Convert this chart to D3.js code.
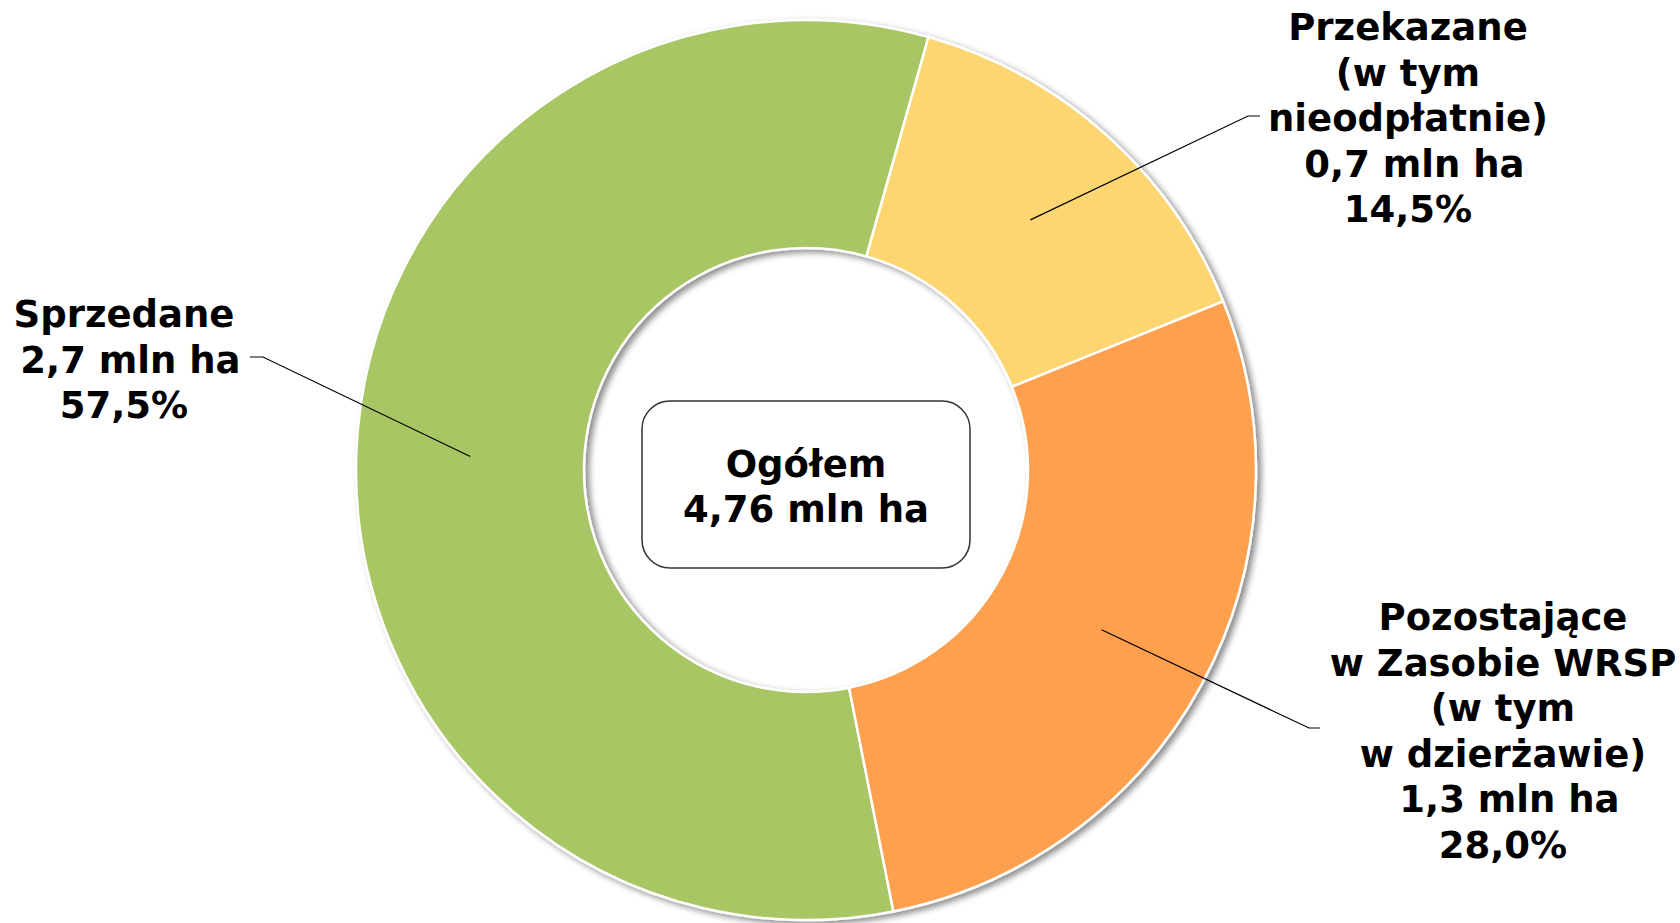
<!DOCTYPE html>
<html><head><meta charset="utf-8">
<script src="https://cdn.jsdelivr.net/npm/d3@7"></script>
<style>
body{margin:0;background:#fff}
svg{display:block}
text{font-family:"DejaVu Sans",Verdana,sans-serif;font-weight:bold;font-size:37px;fill:#000;white-space:pre}
</style>
</head><body>
<svg id="c" width="1680" height="923"></svg>
<script>
// ---- data ----
const categories = ["Sprzedane", "Przekazane", "Pozostające"];
const shares = [57.5, 14.5, 28.0];           // %
const areas = ["2,7", "0,7", "1,3"];          // mln ha
const labelLines = [
  ["Sprzedane", " 2,7 mln ha", "57,5%"],
  ["Przekazane", "(w tym", "nieodpłatnie)", " 0,7 mln ha", "14,5%"],
  ["Pozostające", "w Zasobie WRSP", "(w tym", "w dzierżawie)", " 1,3 mln ha", "28,0%"]
];
const totalLines = ["Ogółem", "4,76 mln ha"];
const colors = ["#A8C663", "#FED671", "#FEA04D"];

// ---- layout ----
const cx = 806, cy = 470, R = 450, r0 = 222;
const deg = Math.PI / 180;
const startA = (15.8 - 207) * deg;
const lineH = 45.5;
const labelPos = [
  {x: 124, y: 327, ex: 263, ey: 357, hx: 250},
  {x: 1408, y: 40, ex: 1248, ey: 116, hx: 1260},
  {x: 1503, y: 630, ex: 1309, ey: 728, hx: 1320}
];

const svg = d3.select("#c");
const defs = svg.append("defs");
const f = defs.append("filter").attr("id", "sh")
  .attr("x", "-10%").attr("y", "-10%").attr("width", "120%").attr("height", "120%");
f.append("feDropShadow").attr("dx", 4).attr("dy", 3).attr("stdDeviation", 3)
  .attr("flood-color", "#000").attr("flood-opacity", 0.45);

const data = categories.map((c, i) => ({name: c, value: shares[i], i}));
const pie = d3.pie().sort(null).value(d => d.value)
  .startAngle(startA).endAngle(startA + 2 * Math.PI);
const arcs = pie(data);
const arc = d3.arc().innerRadius(r0).outerRadius(R);

const g = svg.append("g").attr("transform", `translate(${cx},${cy})`).attr("filter", "url(#sh)");
g.selectAll("path").data(arcs).join("path")
  .attr("d", arc)
  .attr("fill", d => colors[d.data.i])
  .attr("stroke", "#fff").attr("stroke-width", 2.5).attr("stroke-linejoin", "round");

// leader lines
svg.append("g").selectAll("path").data(arcs).join("path")
  .attr("d", d => {
    const c = arc.centroid(d);
    const p = labelPos[d.data.i];
    return d3.line()([[cx + c[0], cy + c[1]], [p.ex, p.ey], [p.hx, p.ey]]);
  })
  .attr("fill", "none").attr("stroke", "#000").attr("stroke-width", 1.2);

// labels
const lg = svg.append("g").selectAll("text").data(arcs).join("text")
  .attr("text-anchor", "middle")
  .attr("x", d => labelPos[d.data.i].x)
  .attr("y", d => labelPos[d.data.i].y);
lg.selectAll("tspan").data(d => labelLines[d.data.i].map(t => ({t, p: labelPos[d.data.i]})))
  .join("tspan")
  .attr("x", d => d.p.x)
  .attr("y", (d, j) => d.p.y + j * lineH)
  .text(d => d.t);

// center box
svg.append("rect").attr("x", 642).attr("y", 401).attr("width", 328).attr("height", 167)
  .attr("rx", 28).attr("ry", 28).attr("fill", "#fff").attr("stroke", "#333").attr("stroke-width", 1.5);
svg.append("text").attr("text-anchor", "middle")
  .selectAll("tspan").data(totalLines).join("tspan")
  .attr("x", cx).attr("y", (d, j) => 477 + j * 45).text(d => d);
</script>
</body></html>
